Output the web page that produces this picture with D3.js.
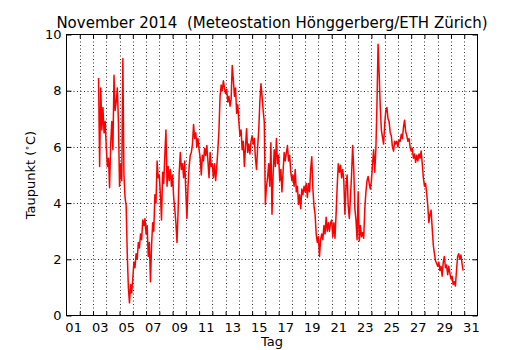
<!DOCTYPE html>
<html><head><meta charset="utf-8">
<script src="https://cdn.jsdelivr.net/npm/d3@7"></script>
<style>
body{margin:0;background:#fff}
svg{display:block}
text{font-family:"DejaVu Sans",sans-serif;fill:#000;white-space:pre}
</style>
</head><body>
<svg id="chart" width="530" height="350"></svg>
<script>
// ---- data -------------------------------------------------------------
const chartTitle = "November 2014  (Meteostation Hönggerberg/ETH Zürich)";
const xTitle = "Tag";
const yTitle = "Taupunkt (";
const yUnit = "C)";
const dayTickLabels = ["01","03","05","07","09","11","13","15","17","19","21","23","25","27","29","31"];
const yTickValues = [0, 2, 4, 6, 8, 10];
// dew point (°C), sampled every 2 hours, first sample Nov 3 10:00
const firstSampleDay = 3;
const firstSampleHour = 10;
const sampleStepHours = 2;
const dewpoint = [
  8.45, 5.3, 8.1, 6.6, 7.4, 6.5, 6.9,                         // Nov 3
  6.0, 5.3, 5.6, 4.55, 6.1, 6.9, 5.9, 8.55, 7.3, 7.6, 8.1, 6.9, // Nov 4
  4.6, 5.4, 4.8, 9.15, 5.0, 4.2, 3.9, 2.2, 1.0, 0.45, 1.1, 0.8, // Nov 5
  1.3, 1.9, 1.7, 2.2, 2.0, 2.6, 2.4, 2.9, 2.7, 3.4, 3.2, 3.45,  // Nov 6
  2.9, 3.2, 2.1, 2.6, 1.2, 2.5, 3.3, 3.0, 4.3, 4.0, 5.5, 4.9,   // Nov 7
  5.0, 4.3, 3.4, 5.1, 4.7, 5.7, 6.6, 4.6, 5.3, 4.8, 5.2, 4.6,   // Nov 8
  5.0, 4.2, 3.8, 3.3, 2.6, 3.7, 5.1, 5.8, 5.2, 5.4, 4.9, 5.5,   // Nov 9
  4.4, 3.45, 4.6, 5.3, 5.7, 5.8, 6.1, 6.8, 6.3, 6.5, 6.0, 6.3,  // Nov 10
  5.9, 5.6, 5.0, 5.7, 5.5, 5.95, 5.7, 6.05, 5.5, 4.9, 5.8, 5.3, // Nov 11
  5.4, 4.9, 5.4, 4.8, 5.3, 5.9, 6.6, 7.8, 8.2, 8.0, 8.35, 8.1,  // Nov 12
  7.9, 8.05, 7.6, 7.8, 7.45, 7.7, 8.9, 8.4, 7.8, 8.1, 7.2, 7.5, // Nov 13
  6.9, 6.4, 6.6, 5.9, 6.2, 5.3, 6.0, 6.65, 5.8, 6.1, 5.75, 6.2, // Nov 14
  6.4, 6.1, 6.3, 5.6, 5.2, 6.0, 6.6, 7.6, 8.25, 7.8, 7.3, 6.9,  // Nov 15
  3.95, 4.6, 4.9, 5.4, 4.6, 6.15, 3.6, 5.0, 5.9, 5.3, 6.3, 5.4, // Nov 16
  5.7, 4.8, 5.2, 4.4, 5.1, 5.8, 5.5, 5.8, 6.05, 5.5, 5.7, 5.1,  // Nov 17
  4.8, 5.0, 4.6, 5.2, 4.4, 4.6, 3.95, 4.3, 3.8, 4.5, 4.3, 4.6,  // Nov 18
  4.4, 4.7, 4.2, 4.7, 4.4, 5.2, 5.65, 4.5, 3.9, 3.6, 2.9, 2.6,  // Nov 19
  2.8, 2.1, 2.7, 2.9, 2.7, 3.2, 2.9, 3.5, 3.0, 3.3, 3.0, 3.3,   // Nov 20
  3.4, 2.8, 3.3, 2.75, 3.6, 4.6, 5.4, 5.1, 5.35, 4.9, 5.2, 4.8, // Nov 21
  3.6, 4.6, 5.0, 3.9, 3.45, 4.2, 5.0, 6.05, 5.2, 3.8, 3.4, 2.7, // Nov 22
  4.4, 2.65, 3.2, 2.8, 2.95, 2.75, 3.8, 4.4, 4.8, 4.95, 4.7, 4.5, // Nov 23
  4.8, 5.4, 5.9, 5.1, 5.9, 7.5, 9.65, 8.6, 7.4, 6.6, 6.35, 6.1, // Nov 24
  6.8, 7.3, 7.4, 7.0, 6.9, 6.5, 6.4, 6.0, 5.85, 6.2, 6.1, 6.2,  // Nov 25
  6.0, 6.25, 6.2, 6.45, 6.3, 6.7, 6.95, 6.55, 6.4, 6.2, 6.3, 6.0, // Nov 26
  5.85, 5.95, 5.6, 5.75, 5.45, 5.7, 5.5, 5.75, 5.6, 5.85, 5.4, 4.9, // Nov 27
  4.6, 4.7, 4.35, 3.9, 3.3, 3.6, 3.75, 3.1, 2.5, 2.2, 1.95, 1.85, // Nov 28
  1.75, 1.9, 1.6, 1.75, 1.4, 1.9, 2.1, 1.7, 1.8, 1.45, 1.75, 1.5, // Nov 29
  1.3, 1.4, 1.1, 1.2, 1.05, 1.6, 2.1, 2.2, 2.0, 2.15, 1.85, 1.6   // Nov 30
];

// ---- layout -----------------------------------------------------------
const W = 530, H = 350;
const L = 66.5, R = 477.5, T = 34.5, B = 315.5;
const svg = d3.select("#chart");

const x = d3.scaleLinear().domain([1, 32]).range([L, R]);
const y = d3.scaleLinear().domain([0, 10]).range([B, T]);

const series = dewpoint.map((v, i) => ({
  day: firstSampleDay + (firstSampleHour + i * sampleStepHours) / 24,
  value: v
}));

const dayBoundaries = d3.range(2, 32);
const labelPositions = dayTickLabels.map(l => +l + 0.5);

// grid
const grid = svg.append("g").attr("stroke", "#000").attr("stroke-width", 0.8)
  .attr("stroke-dasharray", "1,2.5").attr("fill", "none");
grid.selectAll("line.v").data(dayBoundaries).join("line").attr("class", "v")
  .attr("x1", d => Math.round(x(d)) + 0.5).attr("x2", d => Math.round(x(d)) + 0.5)
  .attr("y1", T).attr("y2", B);
grid.selectAll("line.h").data(yTickValues.slice(1, -1)).join("line").attr("class", "h")
  .attr("y1", d => Math.round(y(d)) + 0.5).attr("y2", d => Math.round(y(d)) + 0.5)
  .attr("x1", L).attr("x2", R);

// data line
svg.append("path").datum(series)
  .attr("fill", "none").attr("stroke", "#ff0000").attr("stroke-width", 1.5)
  .attr("stroke-linejoin", "round")
  .attr("d", d3.line().x(d => x(d.day)).y(d => y(d.value)));

// ticks (inward, all four sides)
const fontSize = 13;
function styleAxis(g) {
  g.select(".domain").remove();
  g.selectAll(".tick line").attr("stroke", "#000").attr("stroke-width", 1);
  g.selectAll("text").attr("font-size", fontSize).attr("font-family", "DejaVu Sans");
}
svg.append("g").attr("transform", `translate(0,${B})`)
  .call(d3.axisBottom(x).tickValues(dayBoundaries).tickSize(-4).tickFormat(""))
  .call(styleAxis);
svg.append("g").attr("transform", `translate(0,${T})`)
  .call(d3.axisTop(x).tickValues(dayBoundaries).tickSize(-4).tickFormat(""))
  .call(styleAxis);
svg.append("g").attr("transform", `translate(0,${B})`)
  .call(d3.axisBottom(x).tickValues(labelPositions).tickSize(0).tickPadding(7)
        .tickFormat((d, i) => dayTickLabels[i]))
  .call(styleAxis);
svg.append("g").attr("transform", `translate(${L},0)`)
  .call(d3.axisLeft(y).tickValues(yTickValues).tickSize(-5).tickPadding(5).tickFormat(d3.format("d")))
  .call(styleAxis);
svg.append("g").attr("transform", `translate(${R},0)`)
  .call(d3.axisRight(y).tickValues(yTickValues).tickSize(-5).tickFormat(""))
  .call(styleAxis);

// frame
svg.append("rect").attr("x", L).attr("y", T).attr("width", R - L).attr("height", B - T)
  .attr("fill", "none").attr("stroke", "#000").attr("stroke-width", 1);

// titles
svg.append("text").attr("x", (L + R) / 2).attr("y", 27.5).attr("text-anchor", "middle")
  .attr("font-size", 15).attr("xml:space", "preserve").text(chartTitle);
svg.append("text").attr("x", (L + R) / 2).attr("y", 346).attr("text-anchor", "middle")
  .attr("font-size", fontSize).text(xTitle);
const yt = svg.append("text").attr("transform", `translate(35,${(T + B) / 2}) rotate(-90)`)
  .attr("text-anchor", "middle").attr("font-size", fontSize);
yt.append("tspan").text(yTitle);
yt.append("tspan").attr("font-size", 9).attr("dy", -5).text("∘");
yt.append("tspan").attr("dy", 5).text(yUnit);
</script>
</body></html>
